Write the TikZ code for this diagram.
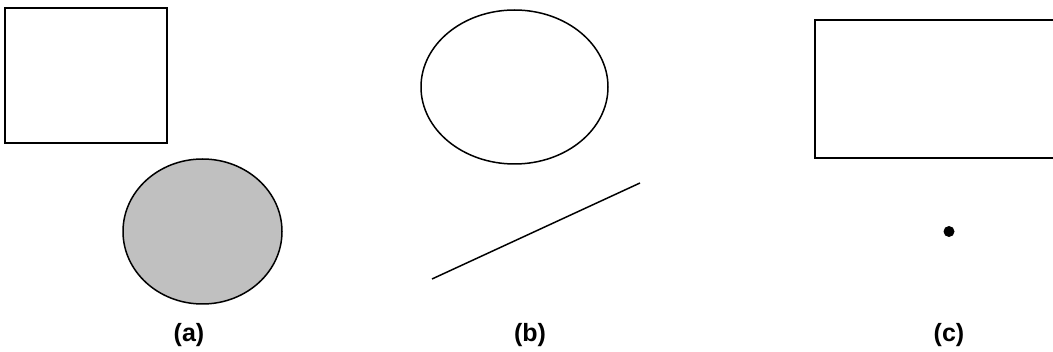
\documentclass[tikz,border=0pt]{standalone}
\usepackage{fontspec}
\setmainfont{Liberation Sans}
\begin{document}
\begin{tikzpicture}[x=1pt,y=-1pt,
  shape line/.style={draw=black,line width=1.5pt},
  caption/.style={font=\fontsize{25}{28}\selectfont\bfseries,anchor=base,inner sep=0pt}]
\useasboundingbox (0,0) rectangle (1053,352);
\clip (0,0) rectangle (1053,352);
% (a)
\draw[shape line] (5,8) rectangle (167,143);
\draw[shape line,fill={rgb,255:red,192;green,192;blue,192}] (202.5,231.5) ellipse [x radius=79.5,y radius=72.5];
\node[caption] (la) at (189,342) {(a)};
% (b)
\draw[shape line] (514.5,87) ellipse [x radius=93.5,y radius=77];
\draw[shape line] (432,279) -- (640,183);
\node[caption] (lb) at (530,342) {(b)};
% (c)
\draw[shape line] (815,20) rectangle (1062,158);
\fill[black] (949,231.5) circle [radius=5.5];
\node[caption] (lc) at (949,342) {(c)};
\end{tikzpicture}
\end{document}
